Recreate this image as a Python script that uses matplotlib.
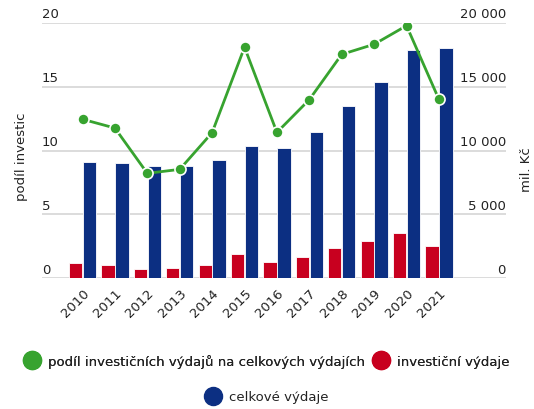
import matplotlib
matplotlib.use("Agg")
import matplotlib.pyplot as plt
from matplotlib.lines import Line2D
import matplotlib.transforms as mtransforms
import numpy as np

plt.rcParams['font.family'] = ['DejaVu Sans']

years = ['2010', '2011', '2012', '2013', '2014', '2015', '2016', '2017', '2018', '2019', '2020', '2021']
podil = [12.45, 11.76, 8.21, 8.52, 11.4, 18.1, 11.42, 13.99, 17.54, 18.33, 19.79, 14.01]
investicni = [1150, 1050, 710, 780, 1050, 1910, 1230, 1670, 2350, 2880, 3560, 2510]
celkove = [9070, 9000, 8810, 8810, 9230, 10350, 10170, 11480, 13460, 15370, 17860, 18040]
left_ticks = [0, 5, 10, 15, 20]
right_ticks = [0, 5000, 10000, 15000, 20000]
right_labels = ['0', '5 000', '10 000', '15 000', '20 000']

GREEN = '#37a32f'
RED = '#c8001f'
BLUE = '#0c2f82'
TXT = '#222222'
GRID = '#d6d6d6'

fig = plt.figure(figsize=(5.34, 4.10), dpi=100)
ax = fig.add_axes([42/534, 1-279/410, (506-42)/534, (279-24)/410])
ax2 = ax.twinx()

x = np.arange(len(years))
w = 0.41
ax2.bar(x - w/2 - 0.01, investicni, width=w, color=RED, edgecolor='white', linewidth=0.6, zorder=2)
ax2.bar(x + w/2 + 0.01, celkove, width=w, color=BLUE, edgecolor='white', linewidth=0.6, zorder=2)

ax.set_zorder(ax2.get_zorder() + 1)
ax.patch.set_visible(False)
ax.plot(x, podil, color=GREEN, linewidth=2, marker='o', markersize=8,
        markerfacecolor=GREEN, markeredgecolor='white', markeredgewidth=1.2, zorder=5)

ax.set_xlim(-1.25, 13.07)
ax.set_ylim(0, 20)
ax2.set_ylim(0, 20000)

for v in left_ticks:
    ax2.axhline(v * 1000, color=GRID, linewidth=1.2, zorder=0)

for a in (ax, ax2):
    for s in a.spines.values():
        s.set_visible(False)
    a.tick_params(axis='y', length=0, labelleft=False, labelright=False)

FS = 9.5
off = mtransforms.offset_copy(ax.get_yaxis_transform(), fig=fig, x=0, y=1.8, units='points')
for v in left_ticks:
    ax.text(0, v, str(v), transform=off, ha='left', va='bottom', fontsize=FS, color=TXT)
off2 = mtransforms.offset_copy(ax2.get_yaxis_transform(), fig=fig, x=0, y=1.8, units='points')
for v, lab in zip(right_ticks, right_labels):
    ax2.text(1, v, lab, transform=off2, ha='right', va='bottom', fontsize=FS, color=TXT)

ax.set_xticks(x)
ax.set_xticklabels(years, rotation=45, ha='right', rotation_mode='anchor',
                   fontsize=FS, color=TXT)
ax.tick_params(axis='x', length=0, pad=6)
ax2.tick_params(axis='x', length=0)

fig.text(22/534, 1-157/410, 'podíl investic', rotation=90, ha='center', va='center', fontsize=9.5, color=TXT)
fig.text(527/534, 1-170/410, 'mil. Kč', rotation=90, ha='center', va='center', fontsize=9.5, color=TXT)

h1 = Line2D([], [], linestyle='none', marker='o', markersize=13, color=GREEN)
h2 = Line2D([], [], linestyle='none', marker='o', markersize=13, color=RED)
h3 = Line2D([], [], linestyle='none', marker='o', markersize=13, color=BLUE)
leg1 = fig.legend([h1, h2], ['podíl investičních výdajů na celkových výdajích', 'investiční výdaje'],
                  loc='center', bbox_to_anchor=(0.5, 1-362/410), ncol=2, frameon=False,
                  fontsize=9.5, handletextpad=0.6, columnspacing=0.6, handlelength=1.2)
for t in leg1.get_texts():
    t.set_color(TXT)
leg2 = fig.legend([h3], ['celkové výdaje'], loc='center', bbox_to_anchor=(0.5, 1-398/410),
                  frameon=False, fontsize=9.5, handletextpad=0.6, handlelength=1.2)
for t in leg2.get_texts():
    t.set_color(TXT)
fig.add_artist(leg1)

fig.savefig('out.png', dpi=100)
